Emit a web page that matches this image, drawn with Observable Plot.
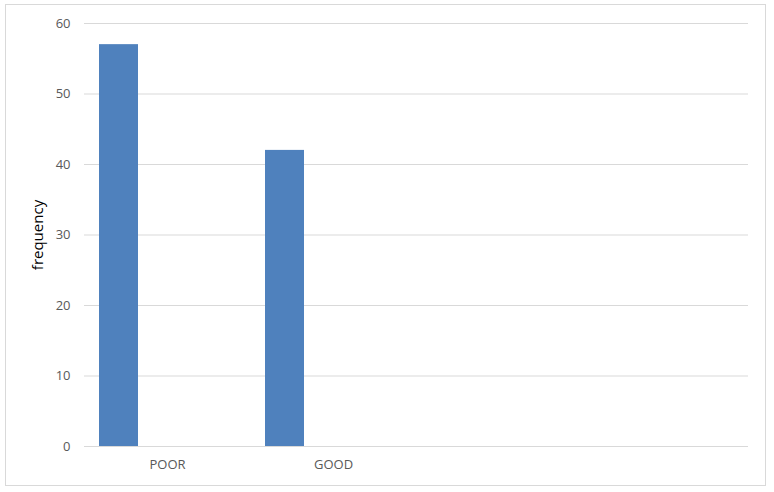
<!DOCTYPE html>
<html>
<head>
<meta charset="utf-8">
<script src="https://cdn.jsdelivr.net/npm/d3@7"></script>
<script src="https://cdn.jsdelivr.net/npm/@observablehq/plot@0.6"></script>
<style>
  html, body { margin: 0; padding: 0; background: #fff; }
  #wrap { position: relative; width: 774px; height: 492px; }
  #frame { position: absolute; left: 5px; top: 4px; width: 761px; height: 482px; border: 1px solid #d9d9d9; box-sizing: border-box; pointer-events: none; }
</style>
</head>
<body>
<div id="wrap"><div id="frame"></div></div>
<script>
const categories = ["POOR", "GOOD"];
const emptySlots = [" ", "  "];
const frequency = [57, 42];
const yTicks = [0, 10, 20, 30, 40, 50, 60];
const yLabel = "frequency";

const data = categories.map((c, i) => ({category: c, value: frequency[i]}));

const chart = Plot.plot({
  width: 774,
  height: 492,
  marginLeft: 84,
  marginRight: 26,
  marginTop: 23,
  marginBottom: 46,
  style: {fontFamily: "'Open Sans', sans-serif", fontSize: "13px", color: "#595959", background: "transparent"},
  x: {domain: [...categories, ...emptySlots], padding: 0},
  y: {domain: [0, 60]},
  marks: [
    Plot.gridY(yTicks, {stroke: "#d9d9d9", strokeOpacity: 1}),
    Plot.barY(data, {x: "category", y: "value", fill: "#4f81bd", insetLeft: 15, insetRight: 112}),
    Plot.axisY(yTicks, {tickSize: 0, tickPadding: 14, label: yLabel, labelAnchor: "center", labelOffset: 52, labelArrow: "none", fontSize: 13}),
    Plot.axisX({tickSize: 0, tickPadding: 13, label: null, fontSize: 13})
  ]
});
document.getElementById("wrap").appendChild(chart);
chart.querySelectorAll("[aria-label='y-axis label']").forEach(e => {
  e.setAttribute("fill", "#000");
  e.setAttribute("font-size", "15");
});
</script>
</body>
</html>
